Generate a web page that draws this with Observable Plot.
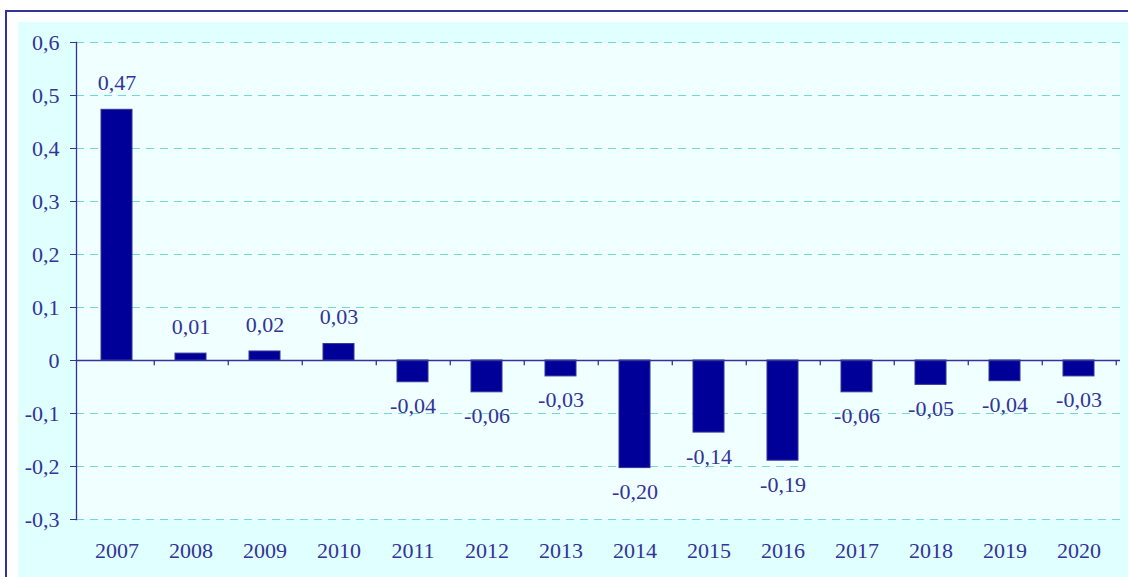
<!DOCTYPE html>
<html>
<head>
<meta charset="utf-8">
<script src="https://cdn.jsdelivr.net/npm/d3@7"></script>
<script src="https://cdn.jsdelivr.net/npm/@observablehq/plot@0.6"></script>
<style>
  html, body { margin: 0; padding: 0; background: #fff; }
  #wrap { position: relative; width: 1128px; height: 577px; overflow: hidden; background: #fff; }
  #border { position: absolute; left: 5px; top: 10px; right: -10px; bottom: -10px;
            border-left: 2px solid #333399; border-top: 2px solid #333399; }
  #panel { position: absolute; left: 18px; top: 22px; right: 0; bottom: 0; background: #E0FFFF; }
  #chart { position: absolute; left: 0; top: 0; }
</style>
</head>
<body>
<div id="wrap">
  <div id="border"></div>
  <div id="panel"></div>
  <div id="chart"></div>
</div>
<script>
const years = ["2007","2008","2009","2010","2011","2012","2013","2014","2015","2016","2017","2018","2019","2020"];
const values = [0.473, 0.013, 0.017, 0.031, -0.041, -0.06, -0.03, -0.203, -0.136, -0.189, -0.06, -0.046, -0.039, -0.03];
const yTicks = [-0.3, -0.2, -0.1, 0, 0.1, 0.2, 0.3, 0.4, 0.5, 0.6];

const data = years.map((y, i) => ({year: y, value: values[i]}));

const W = 1128, H = 577;
const mL = 76, mR = 8, mT = 42, mB = 58;
const step = (W - mL - mR) / years.length;

const ink = "#333399";
const FS = 22;
const font = "'Liberation Serif', 'Times New Roman', serif";
const fmtVal = v => v.toFixed(2).replace(".", ",");
const fmtTick = v => Math.abs(v) < 1e-9 ? "0" : v.toFixed(1).replace(".", ",");

const chart = Plot.plot({
  width: W,
  height: H,
  marginLeft: mL,
  marginRight: mR,
  marginTop: mT,
  marginBottom: mB,
  style: {fontFamily: font, fontSize: FS + "px", color: ink, background: "transparent"},
  x: {type: "band", domain: years, paddingInner: 0.58, paddingOuter: 0.29, label: null},
  y: {domain: [-0.3, 0.6], label: null},
  marks: [
    Plot.frame({fill: "#F0FFFF", stroke: "none"}),
    Plot.ruleY(yTicks.filter(t => Math.abs(t) > 1e-9), {stroke: "#6ED8DC", strokeWidth: 1.2, strokeDasharray: "8,6"}),
    Plot.barY(data, {x: "year", y: "value", fill: "#000099", stroke: ink, strokeWidth: 1}),
    Plot.ruleY([0], {stroke: ink, strokeWidth: 1.3}),
    Plot.ruleX(years, {x: d => d, y1: 0, y2: -0.01, dx: step / 2, stroke: ink, strokeWidth: 1.3}),
    Plot.frame({anchor: "left", stroke: ink, strokeWidth: 1.3}),
    Plot.axisY({ticks: yTicks, tickFormat: fmtTick, tickSize: 6, tickPadding: 11, stroke: ink, fill: ink, fontSize: FS, label: null}),
    Plot.axisX({tickSize: 0, tickPadding: 23, fill: ink, fontSize: FS, label: null}),
    Plot.text(data, {x: "year", y: "value", text: d => fmtVal(d.value),
      fill: ink, fontSize: FS, filter: d => d.value >= 0, lineAnchor: "middle", dy: -27}),
    Plot.text(data, {x: "year", y: "value", text: d => fmtVal(d.value),
      fill: ink, fontSize: FS, filter: d => d.value < 0, lineAnchor: "middle", dy: 24})
  ]
});
document.getElementById("chart").appendChild(chart);
</script>
</body>
</html>
